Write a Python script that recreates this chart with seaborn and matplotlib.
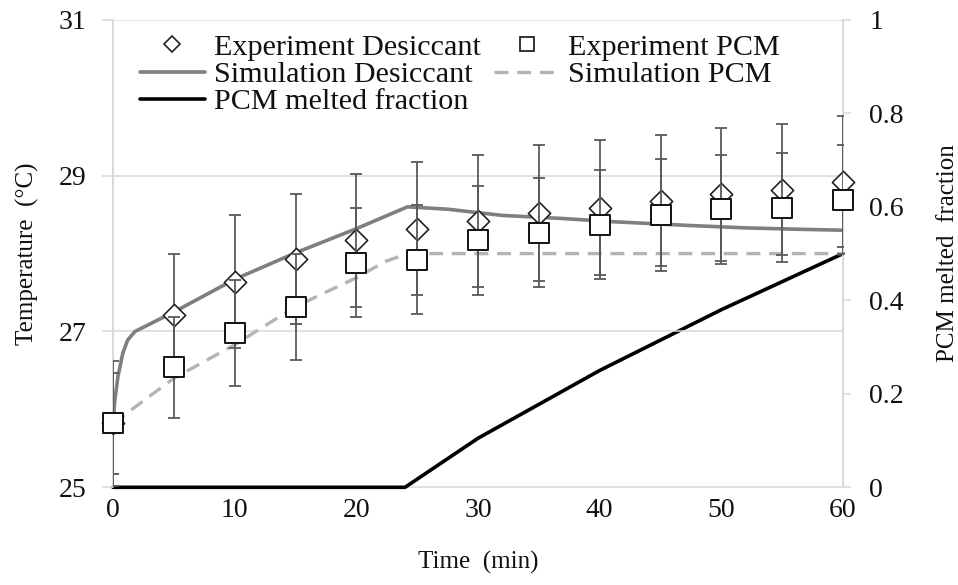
import matplotlib
matplotlib.use("Agg")
import matplotlib.pyplot as plt
import seaborn as sns
import pandas as pd
from matplotlib.lines import Line2D
from matplotlib.collections import PathCollection

# ---------------- data ----------------
time_exp = [0, 5, 10, 15, 20, 25, 30, 35, 40, 45, 50, 55, 60]
exp_desiccant = [25.82, 27.21, 27.64, 27.93, 28.17, 28.32, 28.42, 28.52, 28.59, 28.68, 28.76, 28.82, 28.92]
exp_desiccant_err = [0.80, 0.79, 0.85, 0.84, 0.85, 0.85, 0.85, 0.87, 0.87, 0.84, 0.85, 0.84, 0.84]
exp_pcm = [25.82, 26.54, 26.98, 27.32, 27.88, 27.92, 28.17, 28.27, 28.37, 28.50, 28.57, 28.59, 28.69]
exp_pcm_err = [0.65, 0.65, 0.68, 0.68, 0.70, 0.70, 0.70, 0.70, 0.70, 0.72, 0.70, 0.70, 0.70]

sim_des_time = [0, 0.15, 0.4, 0.8, 1.2, 1.8, 3.2, 5, 10, 15, 20, 24.2, 27.5, 32, 37, 41, 47.5, 52, 57, 60]
sim_desiccant = [25.82, 26.12, 26.42, 26.72, 26.89, 27.0, 27.11, 27.25, 27.67, 28.01, 28.32, 28.60,
                 28.57, 28.49, 28.45, 28.41, 28.36, 28.33, 28.31, 28.30]
sim_pcm_time = [0, 5, 10, 15, 20, 22.4, 24.2, 60]
sim_pcm = [25.82, 26.40, 26.83, 27.32, 27.69, 27.90, 28.00, 28.00]
melt_time = [0, 24, 30, 40, 50, 60]
melt_fraction = [0, 0, 0.105, 0.25, 0.38, 0.50]

x_ticks = [0, 10, 20, 30, 40, 50, 60]
y_ticks = [25, 27, 29, 31]
y2_ticks = [0, 0.2, 0.4, 0.6, 0.8, 1]
y2_labels = ["0", "0.2", "0.4", "0.6", "0.8", "1"]

# ---------------- style ----------------
sns.set_theme(style="white")
plt.rcParams['font.family'] = ['Liberation Serif', 'DejaVu Serif']

fig = plt.figure(figsize=(9.58, 5.85), dpi=100)
ax = fig.add_axes([0.118, 0.167, 0.762, 0.799])
ax2 = ax.twinx()

grid_c = '#d9d9d9'
err_c = '#595959'

df_exp = pd.DataFrame({'t': time_exp, 'des': exp_desiccant, 'pcm': exp_pcm})

# gridlines (the bottom one is the axis itself)
for y in y_ticks[1:]:
    ax.axhline(y, color=grid_c, lw=1.1, zorder=0)

# simulation lines
sns.lineplot(x=sim_des_time, y=sim_desiccant, ax=ax, color='#7f7f7f', lw=2.6, zorder=3)
sns.lineplot(x=sim_pcm_time, y=sim_pcm, ax=ax, color='#b4b4b4', lw=2.4, zorder=3)
ax.lines[-1].set_dashes((4.2, 2.6))

# error bars & markers
ax.errorbar(time_exp, exp_desiccant, yerr=exp_desiccant_err, fmt='none', ecolor=err_c,
            elinewidth=1.3, capsize=4.5, capthick=1.3, zorder=4)
sns.scatterplot(data=df_exp, x='t', y='des', ax=ax, marker='D', s=128, facecolor='white',
                edgecolor='#222222', linewidth=1.2, zorder=5)
ax.errorbar(time_exp, exp_pcm, yerr=exp_pcm_err, fmt='none', ecolor=err_c,
            elinewidth=1.3, capsize=4.5, capthick=1.3, zorder=6)
sns.scatterplot(data=df_exp, x='t', y='pcm', ax=ax, marker='s', s=190, facecolor='white',
                edgecolor='#111111', linewidth=1.4, zorder=7)
for c in ax.collections:
    if isinstance(c, PathCollection):
        c.set_clip_on(False)

# melted fraction
sns.lineplot(x=melt_time, y=melt_fraction, ax=ax2, color='black', lw=2.6, zorder=3)
for ln in ax2.lines:
    ln.set_clip_on(False)

ax.set_zorder(ax2.get_zorder() + 1)
ax.patch.set_visible(False)

# axes
ax.set_xlim(0, 60)
ax.set_ylim(25, 31)
ax2.set_ylim(0, 1)
ax.set_xticks(x_ticks)
ax.set_yticks(y_ticks)
ax2.set_yticks(y2_ticks)
ax2.set_yticklabels(y2_labels)

for a in (ax, ax2):
    a.spines['top'].set_visible(False)
    for s in ('left', 'right', 'bottom'):
        a.spines[s].set_color(grid_c)
        a.spines[s].set_linewidth(1.1)
ax.spines['bottom'].set_visible(False)
ax2.spines['bottom'].set_zorder(0)
ax.tick_params(axis='x', direction='out', length=5, width=1.1, color=grid_c,
               labelsize=20, labelcolor='#111111', pad=3)
ax.tick_params(axis='y', direction='out', length=8, width=1.1, color=grid_c,
               labelsize=20, labelcolor='#111111', pad=11)
ax2.tick_params(axis='y', direction='out', length=6, width=1.1, color=grid_c,
                labelsize=20, labelcolor='#111111', pad=13)

ax.set_xlabel('Time  (min)', fontsize=18, color='#111111', labelpad=20)
ax.set_ylabel('Temperature  (°C)', fontsize=18, color='#111111', labelpad=14)
ax2.set_ylabel('PCM melted  fraction', fontsize=18, color='#111111', labelpad=24)

# legend
handles = [
    Line2D([], [], ls='none', marker='D', ms=8, mfc='white', mec='#222222', mew=1.2),
    Line2D([], [], ls='none', marker='s', ms=10, mfc='white', mec='#111111', mew=1.2),
    Line2D([], [], color='#7f7f7f', lw=2.6),
    Line2D([], [], color='#b4b4b4', lw=2.4, dashes=(4.2, 2.6)),
    Line2D([], [], color='black', lw=2.6),
]
labels = ['Experiment Desiccant', 'Experiment PCM', 'Simulation Desiccant',
          'Simulation PCM', 'PCM melted fraction']
order = [0, 2, 4, 1, 3]
leg = ax.legend([handles[i] for i in order], [labels[i] for i in order], ncol=2,
                frameon=False, fontsize=21.7, loc='upper left',
                bbox_to_anchor=(0.037, 0.97), handlelength=2.15, handletextpad=0.3,
                labelspacing=0.0, columnspacing=0.45, borderaxespad=0.0, borderpad=0.0)
for t in leg.get_texts():
    t.set_color('#111111')

fig.savefig('out.png', dpi=100)
